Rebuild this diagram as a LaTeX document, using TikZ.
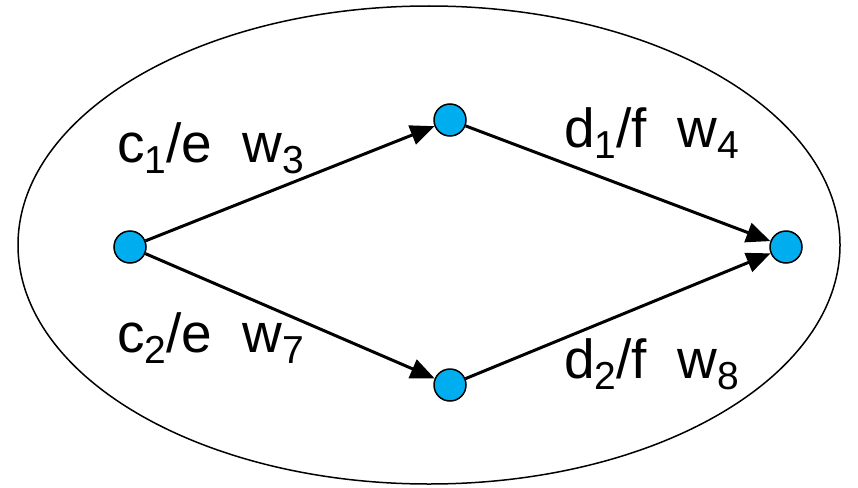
\documentclass[tikz,border=0pt]{standalone}
\usepackage{fontspec}
\setmainfont{Liberation Sans}
\usetikzlibrary{arrows.meta}
\definecolor{nodecyan}{RGB}{0,174,239}
\newcommand{\sbx}[1]{\raisebox{-0.2em}{\fontsize{39pt}{39pt}\selectfont #1}}
\begin{document}
\begin{tikzpicture}[x=1pt,y=-1pt,
  dot/.style={circle,draw,line width=1.5pt,fill=nodecyan,minimum size=32pt,inner sep=0pt},
  arr/.style={line width=3pt,-{Triangle[length=24pt,width=20pt]}},
  lbl/.style={anchor=base west,inner sep=0pt,font=\fontsize{55pt}{60pt}\selectfont}]
\useasboundingbox (0,0) rectangle (858,487);
\draw[line width=1.5pt] (429,245) ellipse [x radius=411, y radius=239];
\node[dot] (L) at (130,247) {};
\node[dot] (T) at (450,120) {};
\node[dot] (B) at (450,385) {};
\node[dot] (R) at (786,247) {};
\draw[arr] (L) -- (T);
\draw[arr] (L) -- (B);
\draw[arr] (T) -- (R);
\draw[arr] (B) -- (R);
\node[lbl] (l1) at (117,162) {c\sbx{1}/e\ \ w\sbx{3}};
\node[lbl] (l2) at (117,352) {c\sbx{2}/e\ \ w\sbx{7}};
\node[lbl] (l3) at (564,147) {d\sbx{1}/f\ \ w\sbx{4}};
\node[lbl] (l4) at (564,378) {d\sbx{2}/f\ \ w\sbx{8}};
\end{tikzpicture}
\end{document}
